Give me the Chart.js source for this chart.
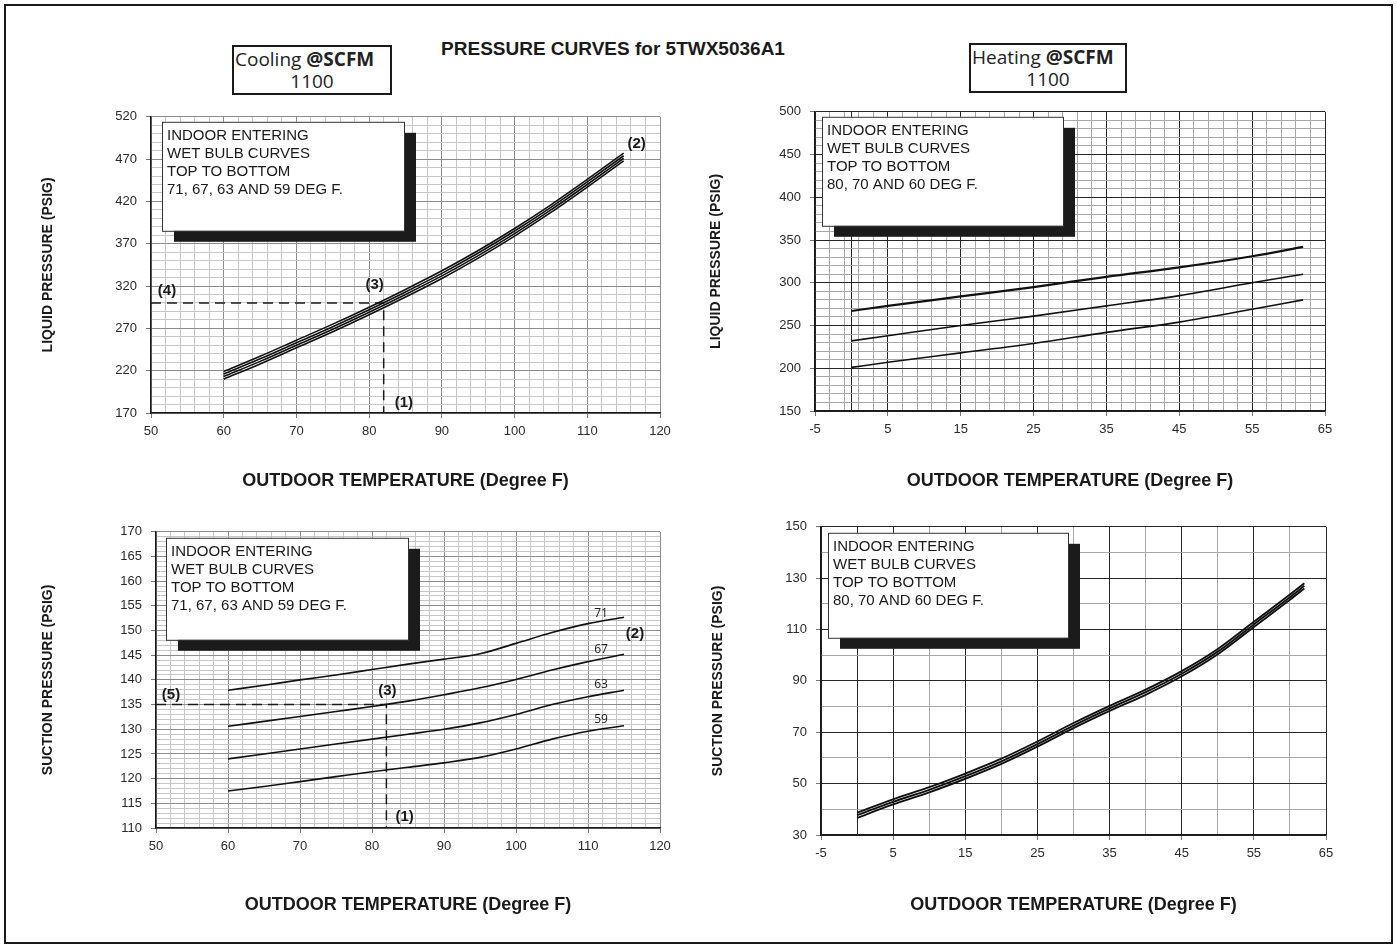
<!DOCTYPE html>
<html>
<head>
<meta charset="utf-8">
<title>Pressure curves 5TWX5036A1</title>
<script src="https://cdn.jsdelivr.net/npm/chart.js@4.4.1/dist/chart.umd.min.js"></script>
<style>
  html, body { margin: 0; padding: 0; background: #fff; }
  #page { position: relative; width: 1397px; height: 949px; overflow: hidden; background: #fff; }
  #frame { position: absolute; left: 4px; top: 4px; width: 1389px; height: 940px; box-sizing: border-box; border: 2px solid #1a1a1a; }
  #title { position: absolute; left: 0; top: 38px; width: 1226px; text-align: center; font: bold 19px "Liberation Sans", Arial, sans-serif; color: #1a1a1a; }
  .cfm { position: absolute; box-sizing: border-box; height: 50px; border: 2px solid #1a1a1a; font: 19px "Open Sans", sans-serif; line-height: 22px; color: #222; padding-top: 1px; }
  .cfm div:first-child { padding-left: 1px; white-space: nowrap; }
  .cfm div:last-child { text-align: center; }
  canvas { position: absolute; }
</style>
</head>
<body>
<div id="page">
  <div id="frame"></div>
  <div id="title">PRESSURE CURVES for 5TWX5036A1</div>
  <div class="cfm" style="left:232px; top:45px; width:160px;"><div>Cooling <b>@SCFM</b></div><div>1100</div></div>
  <div class="cfm" style="left:969px; top:43px; width:158px;"><div>Heating <b>@SCFM</b></div><div>1100</div></div>
  <canvas id="coolLiquid" width="670" height="400" style="left:20px; top:100px;"></canvas>
  <canvas id="heatLiquid" width="670" height="405" style="left:690px; top:95px;"></canvas>
  <canvas id="coolSuction" width="670" height="410" style="left:20px; top:515px;"></canvas>
  <canvas id="heatSuction" width="670" height="410" style="left:690px; top:510px;"></canvas>
</div>
<script>
// ---- cooling (outdoor temp F -> psig), one curve per indoor wet bulb ----
const coolTemps = [60, 65, 70, 75, 80, 85, 90, 95, 100, 105, 110, 115];
const coolLiquid71 = [219, 237, 256, 275, 295, 316, 338, 362, 388, 416, 446, 477];
const coolLiquid67 = [216, 234, 253, 272, 292, 313, 335, 359, 385, 413, 443, 474];
const coolLiquid63 = [213, 231, 250, 269, 289, 310, 332, 356, 382, 410, 440, 471];
const coolLiquid59 = [210, 228, 247, 266, 286, 307, 329, 353, 379, 407, 437, 468];
const coolSuction71 = [137.9, 138.9, 140.0, 141.0, 142.1, 143.2, 144.2, 145.3, 147.4, 149.6, 151.4, 152.7];
const coolSuction67 = [130.6, 131.6, 132.6, 133.6, 134.6, 135.7, 137.0, 138.4, 140.1, 142.0, 143.7, 145.2];
const coolSuction63 = [124.0, 125.0, 126.0, 127.0, 128.0, 129.0, 130.0, 131.3, 133.0, 135.0, 136.6, 137.9];
const coolSuction59 = [117.5, 118.4, 119.4, 120.4, 121.4, 122.3, 123.2, 124.3, 126.0, 128.0, 129.6, 130.7];
const coolWetBulbs = ['71', '67', '63', '59'];

// worked example on the cooling charts: (1) outdoor temp, (4) liquid, (5) suction
const checkTemp = 82;
const checkLiquid = 300;
const checkSuction = 135;

// ---- heating ----
const heatLiquidTemps = [0, 5, 15, 25, 35, 45, 55, 62];
const heatLiquid80 = [267, 273, 284, 295, 307, 318, 331, 342];
const heatLiquid70 = [232, 238, 250, 261, 273, 285, 300, 310];
const heatLiquid60 = [201, 207, 218, 229, 242, 254, 269, 280];
const heatSuctionTemps = [0, 5, 10, 15, 20, 25, 30, 35, 40, 45, 50, 55, 60, 62];
const heatSuction80 = [38.7, 43.9, 48.6, 53.9, 59.7, 66.4, 73.6, 80.3, 86.6, 93.8, 102.4, 113.0, 123.6, 128.0];
const heatSuction70 = [37.7, 42.9, 47.6, 52.9, 58.7, 65.4, 72.6, 79.3, 85.6, 92.8, 101.4, 112.0, 122.6, 127.0];
const heatSuction60 = [36.7, 41.9, 46.6, 51.9, 57.7, 64.4, 71.6, 78.3, 84.6, 91.8, 100.4, 111.0, 121.6, 126.0];
const heatWetBulbs = ['80', '70', '60'];

// ---- tick labels ----
const coolTempLabels = [50, 60, 70, 80, 90, 100, 110, 120];
const coolLiquidLabels = [170, 220, 270, 320, 370, 420, 470, 520];
const coolSuctionLabels = [110, 115, 120, 125, 130, 135, 140, 145, 150, 155, 160, 165, 170];
const heatTempLabels = [-5, 5, 15, 25, 35, 45, 55, 65];
const heatLiquidLabels = [150, 200, 250, 300, 350, 400, 450, 500];
const heatSuctionLabels = [30, 50, 70, 90, 110, 130, 150];

const FONT = '"Liberation Sans", Arial, sans-serif';
const INK = '#1a1a1a';

function pts(xs, ys) {
  return xs.map((x, i) => ({ x: x, y: ys[i] }));
}

// labelled values plus the fine graph-paper lines in between
function gridValues(labels, step, extra) {
  const set = new Set(labels.concat(extra || []));
  const hi = labels[labels.length - 1];
  for (let v = labels[0]; v <= hi + 1e-9; v += step) set.add(Math.round(v * 100) / 100);
  return Array.from(set).sort((a, b) => a - b);
}

function axis(o) {
  return {
    type: 'linear',
    min: o.labels[0],
    max: o.labels[o.labels.length - 1],
    afterBuildTicks: a => { a.ticks = o.grid.map(v => ({ value: v })); },
    afterFit: a => { if (a.isHorizontal()) a.height = o.size; else a.width = o.size; },
    ticks: {
      autoSkip: false, maxRotation: 0, padding: o.pad, color: '#2a2a2a',
      font: { family: FONT, size: 13 },
      callback: v => o.labels.includes(v) ? String(v) : ''
    },
    grid: {
      lineWidth: 1,
      tickLength: 5,
      color: c => (c.tick && o.strong.includes(c.tick.value)) ? o.strongColor : o.weakColor,
      tickColor: c => (c.tick && o.labels.includes(c.tick.value)) ? '#777' : 'rgba(0,0,0,0)'
    },
    border: { color: INK, width: 1.5 },
    title: {
      display: true, text: o.title, color: INK,
      font: { family: FONT, size: o.titleSize || 14, weight: 'bold' },
      padding: o.titlePad
    }
  };
}

function curve(xs, ys, width) {
  return {
    data: pts(xs, ys), borderColor: '#111', borderWidth: width || 1.6,
    pointRadius: 0, fill: false, cubicInterpolationMode: 'monotone'
  };
}

function dashed(points) {
  return {
    data: points, borderColor: INK, borderWidth: 1.5, borderDash: [10, 6],
    pointRadius: 0, fill: false, tension: 0
  };
}

// white note box with a solid drop shadow, and the (1)..(5) call-outs
function notesPlugin(note) {
  return {
    id: 'notes',
    beforeDatasetsDraw(chart) {
      const { ctx, chartArea: a } = chart;
      const b = note.box;
      const x = a.left + b.x, y = a.top + b.y;
      ctx.save();
      ctx.fillStyle = '#1b1b1b';
      ctx.fillRect(x + 12, y + 11, b.w, b.h);
      ctx.fillStyle = '#fff';
      ctx.fillRect(x, y, b.w, b.h);
      ctx.strokeStyle = '#333';
      ctx.lineWidth = 1;
      ctx.strokeRect(x + 0.5, y + 0.5, b.w, b.h);
      ctx.fillStyle = INK;
      ctx.font = '15px ' + FONT;
      ctx.textBaseline = 'middle';
      note.lines.forEach((t, i) => ctx.fillText(t, x + 5, y + 14 + i * 18));
      ctx.restore();
    },
    afterDatasetsDraw(chart) {
      const { ctx, scales: { x, y } } = chart;
      ctx.save();
      ctx.fillStyle = INK;
      ctx.textBaseline = 'middle';
      (note.marks || []).forEach(m => {
        ctx.font = m.small ? '12px "Open Sans", sans-serif' : 'bold 15px ' + FONT;
        ctx.textAlign = m.align || 'center';
        ctx.fillText(m.text, x.getPixelForValue(m.x) + m.dx, y.getPixelForValue(m.y) + m.dy);
      });
      ctx.restore();
    }
  };
}

function makeChart(id, datasets, xAxis, yAxis, pad, note) {
  return new Chart(document.getElementById(id), {
    type: 'line',
    data: { datasets: datasets },
    options: {
      responsive: false,
      animation: false,
      devicePixelRatio: 1,
      layout: { padding: pad },
      plugins: { legend: { display: false }, tooltip: { enabled: false } },
      scales: { x: xAxis, y: yAxis }
    },
    plugins: [notesPlugin(note)]
  });
}

const coolLines = ['INDOOR ENTERING', 'WET BULB CURVES', 'TOP TO BOTTOM', '71, 67, 63 AND 59 DEG F.'];
const heatLines = ['INDOOR ENTERING', 'WET BULB CURVES', 'TOP TO BOTTOM', '80, 70 AND 60 DEG F.'];
const tempTitle = 'OUTDOOR TEMPERATURE (Degree F)';

// ---- cooling / liquid ----
makeChart('coolLiquid',
  [
    curve(coolTemps, coolLiquid71), curve(coolTemps, coolLiquid67),
    curve(coolTemps, coolLiquid63), curve(coolTemps, coolLiquid59),
    dashed([{ x: coolTempLabels[0], y: checkLiquid }, { x: checkTemp, y: checkLiquid }, { x: checkTemp, y: coolLiquidLabels[0] }])
  ],
  axis({ labels: coolTempLabels, grid: gridValues(coolTempLabels, 2), strong: coolTempLabels,
    strongColor: '#8c8c8c', weakColor: '#c6c6c6', size: 87, pad: 6,
    title: tempTitle, titleSize: 18, titlePad: { top: 0, bottom: 8.2 } }),
  axis({ labels: coolLiquidLabels, grid: gridValues(coolLiquidLabels, 10), strong: coolLiquidLabels,
    strongColor: '#8c8c8c', weakColor: '#c6c6c6', size: 131, pad: 9,
    title: 'LIQUID PRESSURE (PSIG)', titlePad: { top: 19.6, bottom: 0 } }),
  { top: 13, right: 30, left: 0, bottom: 0 },
  {
    box: { x: 11, y: 5, w: 242, h: 109 },
    lines: coolLines,
    marks: [
      { text: '(1)', x: checkTemp, y: coolLiquidLabels[0], dx: 11, dy: -10, align: 'left' },
      { text: '(2)', x: coolTemps[coolTemps.length - 1], y: coolLiquid71[coolLiquid71.length - 1], dx: 13, dy: -9 },
      { text: '(3)', x: checkTemp, y: checkLiquid, dx: -9, dy: -18 },
      { text: '(4)', x: coolTempLabels[0], y: checkLiquid, dx: 16, dy: -12 }
    ]
  });

// ---- heating / liquid ----
makeChart('heatLiquid',
  [
    curve(heatLiquidTemps, heatLiquid80, 2.2), curve(heatLiquidTemps, heatLiquid70, 1.6),
    curve(heatLiquidTemps, heatLiquid60, 1.6)
  ],
  axis({ labels: heatTempLabels, grid: gridValues(heatTempLabels, 2, [0]), strong: heatTempLabels.concat([0]),
    strongColor: '#262626', weakColor: '#a8a8a8', size: 89, pad: 6,
    title: tempTitle, titleSize: 18, titlePad: { top: 0, bottom: 8.2 } }),
  axis({ labels: heatLiquidLabels, grid: gridValues(heatLiquidLabels, 10), strong: heatLiquidLabels,
    strongColor: '#262626', weakColor: '#a8a8a8', size: 125, pad: 9,
    title: 'LIQUID PRESSURE (PSIG)', titlePad: { top: 17.6, bottom: 0 } }),
  { top: 13, right: 35, left: 0, bottom: 0 },
  { box: { x: 7, y: 5, w: 241, h: 109 }, lines: heatLines, marks: [] });

// ---- cooling / suction ----
const at110 = coolTemps.indexOf(110);
makeChart('coolSuction',
  [
    curve(coolTemps, coolSuction71), curve(coolTemps, coolSuction67),
    curve(coolTemps, coolSuction63), curve(coolTemps, coolSuction59),
    dashed([{ x: coolTempLabels[0], y: checkSuction }, { x: checkTemp, y: checkSuction }, { x: checkTemp, y: coolSuctionLabels[0] }])
  ],
  axis({ labels: coolTempLabels, grid: gridValues(coolTempLabels, 2), strong: coolTempLabels,
    strongColor: '#8c8c8c', weakColor: '#c6c6c6', size: 97, pad: 6,
    title: tempTitle, titleSize: 18, titlePad: { top: 0, bottom: 9.2 } }),
  axis({ labels: coolSuctionLabels, grid: gridValues(coolSuctionLabels, 1), strong: coolSuctionLabels,
    strongColor: '#8c8c8c', weakColor: '#c6c6c6', size: 136, pad: 9,
    title: 'SUCTION PRESSURE (PSIG)', titlePad: { top: 19.6, bottom: 0 } }),
  { top: 14, right: 30, left: 0, bottom: 0 },
  {
    box: { x: 10, y: 6, w: 242, h: 102 },
    lines: coolLines,
    marks: [
      { text: '(1)', x: checkTemp, y: coolSuctionLabels[0], dx: 9, dy: -11, align: 'left' },
      { text: '(2)', x: coolTemps[coolTemps.length - 1], y: coolSuction71[coolSuction71.length - 1], dx: 11, dy: 17 },
      { text: '(3)', x: checkTemp, y: checkSuction, dx: 1, dy: -14 },
      { text: '(5)', x: coolTempLabels[0], y: checkSuction, dx: 15, dy: -10 },
      { text: coolWetBulbs[0], x: 110, y: coolSuction71[at110], dx: 13, dy: -10, small: true },
      { text: coolWetBulbs[1], x: 110, y: coolSuction67[at110], dx: 13, dy: -12, small: true },
      { text: coolWetBulbs[2], x: 110, y: coolSuction63[at110], dx: 13, dy: -12, small: true },
      { text: coolWetBulbs[3], x: 110, y: coolSuction59[at110], dx: 13, dy: -12, small: true }
    ]
  });

// ---- heating / suction ----
makeChart('heatSuction',
  [
    curve(heatSuctionTemps, heatSuction80, 1.9), curve(heatSuctionTemps, heatSuction70, 1.9),
    curve(heatSuctionTemps, heatSuction60, 1.9)
  ],
  axis({ labels: heatTempLabels, grid: gridValues(heatTempLabels, 5, [0]), strong: heatTempLabels.concat([0]),
    strongColor: '#262626', weakColor: '#a8a8a8', size: 85, pad: 6,
    title: tempTitle, titleSize: 18, titlePad: { top: 0, bottom: 4.2 } }),
  axis({ labels: heatSuctionLabels, grid: gridValues(heatSuctionLabels, 10), strong: heatSuctionLabels,
    strongColor: '#262626', weakColor: '#a8a8a8', size: 131, pad: 9,
    title: 'SUCTION PRESSURE (PSIG)', titlePad: { top: 19.6, bottom: 0 } }),
  { top: 14, right: 34, left: 0, bottom: 0 },
  { box: { x: 7, y: 6, w: 240, h: 105 }, lines: heatLines, marks: [] });
</script>
</body>
</html>
